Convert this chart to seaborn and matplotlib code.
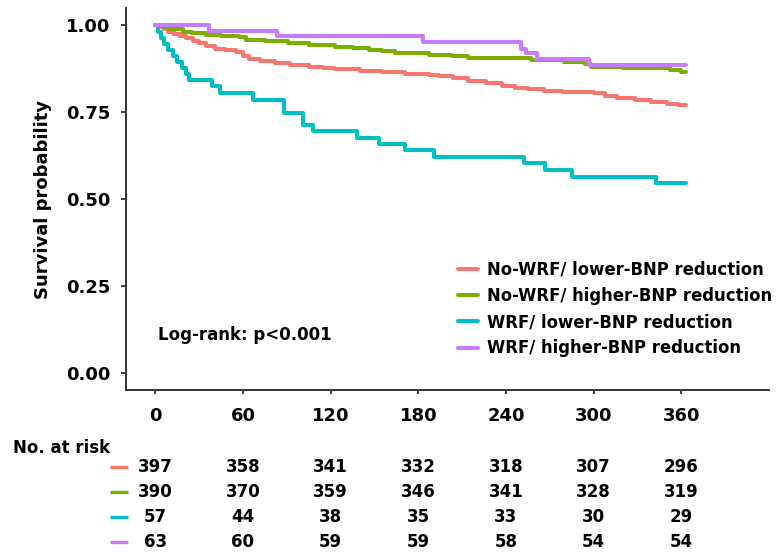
"""
Kaplan-Meier curves by WRF / BNP-reduction group with number-at-risk table.
"""

import numpy as np
import pandas as pd
import matplotlib
matplotlib.use("Agg")
import matplotlib.pyplot as plt
import matplotlib.transforms as mtransforms
import seaborn as sns

GROUPS = [
    "No-WRF/ lower-BNP reduction",
    "No-WRF/ higher-BNP reduction",
    "WRF/ lower-BNP reduction",
    "WRF/ higher-BNP reduction",
]
COLORS = ["#F8766D", "#7CAE00", "#00BFC4", "#C77CFF"]

# step times (days) and survival after each step
RED_T = [0, 3, 6, 9, 13, 17, 21, 26, 30, 35, 41, 48, 55, 60, 64, 72, 82, 92, 105, 115,
         123, 140, 155, 171, 187, 194, 204, 214, 226, 237, 246, 255, 266, 278, 300,
         308, 316, 328, 339, 350, 358, 363]
RED_S = [1.0, 0.995, 0.99, 0.982, 0.976, 0.97, 0.963, 0.955, 0.948, 0.941, 0.933, 0.928,
         0.923, 0.913, 0.904, 0.898, 0.892, 0.887, 0.880, 0.876, 0.873, 0.870, 0.866,
         0.861, 0.858, 0.855, 0.847, 0.839, 0.833, 0.826, 0.821, 0.816, 0.812, 0.807,
         0.804, 0.797, 0.791, 0.785, 0.778, 0.774, 0.770, 0.770]

GREEN_T = [0, 5, 10, 19, 25, 35, 45, 57, 62, 75, 91, 105, 123, 135, 146, 155, 164, 187,
           203, 214, 250, 257, 262, 280, 294, 298, 320, 339, 352, 360, 363]
GREEN_S = [1.0, 0.995, 0.99, 0.981, 0.978, 0.971, 0.968, 0.966, 0.959, 0.955, 0.949,
           0.944, 0.938, 0.934, 0.930, 0.925, 0.919, 0.916, 0.912, 0.907, 0.907, 0.901,
           0.899, 0.895, 0.890, 0.880, 0.878, 0.876, 0.872, 0.866, 0.866]

CYAN_T = [0, 2, 4, 6, 9, 12, 15, 18, 21, 23, 39, 44, 67, 88, 101, 108, 138, 153, 171,
          191, 252, 267, 285, 343, 363]
CYAN_S = [1.0, 0.982, 0.965, 0.947, 0.930, 0.912, 0.895, 0.877, 0.860, 0.842, 0.824,
          0.805, 0.786, 0.749, 0.713, 0.695, 0.676, 0.658, 0.641, 0.620, 0.603, 0.583,
          0.564, 0.547, 0.547]

PURPLE_T = [0, 37, 83, 183, 250, 254, 261, 297, 363]
PURPLE_S = [1.0, 0.984, 0.968, 0.952, 0.933, 0.919, 0.904, 0.885, 0.885]

RISK_TIMES = [0, 60, 120, 180, 240, 300, 360]
RISK_RED = [397, 358, 341, 332, 318, 307, 296]
RISK_GREEN = [390, 370, 359, 346, 341, 328, 319]
RISK_CYAN = [57, 44, 38, 35, 33, 30, 29]
RISK_PURPLE = [63, 60, 59, 59, 58, 54, 54]

Y_TICKS = [0.0, 0.25, 0.5, 0.75, 1.0]


def build_frame():
    parts = []
    for g, t, s in zip(GROUPS, [RED_T, GREEN_T, CYAN_T, PURPLE_T],
                       [RED_S, GREEN_S, CYAN_S, PURPLE_S]):
        parts.append(pd.DataFrame({"time": t, "surv": s, "group": g}))
    return pd.concat(parts, ignore_index=True)


def plot_km(df):
    sns.set_style("white")
    plt.rcParams["font.family"] = ["DejaVu Sans"]
    plt.rcParams["font.weight"] = "bold"
    plt.rcParams["text.color"] = "black"
    plt.rcParams["axes.labelcolor"] = "black"
    plt.rcParams["xtick.color"] = "black"
    plt.rcParams["ytick.color"] = "black"

    fig = plt.figure(figsize=(7.84, 5.52), dpi=100)
    ax = fig.add_axes([0.1607, 0.2935, 0.8202, 0.6920])

    sns.lineplot(
        data=df, x="time", y="surv", hue="group", hue_order=GROUPS,
        palette=COLORS, drawstyle="steps-post", estimator=None, sort=False,
        linewidth=2.9, legend=False, ax=ax,
    )

    ax.set_xlim(-20, 420)
    ax.set_ylim(-0.05, 1.05)
    ax.set_xticks(RISK_TIMES)
    ax.set_yticks(Y_TICKS)
    ax.set_yticklabels([f"{v:.2f}" for v in Y_TICKS])
    ax.set_xlabel("")
    ax.set_ylabel("Survival probability", fontsize=13, fontweight="bold", labelpad=10,
                  color="black")
    ax.tick_params(axis="y", labelsize=13, length=3.5, width=1.3, color="#333333", pad=8,
                   left=True, labelcolor="black")
    ax.tick_params(axis="x", labelsize=13, length=3, width=1.3, color="#333333", pad=9,
                   bottom=True, labelcolor="black")
    for lab in ax.get_xticklabels() + ax.get_yticklabels():
        lab.set_fontweight("bold")
    for side in ["top", "right"]:
        ax.spines[side].set_visible(False)
    for side in ["left", "bottom"]:
        ax.spines[side].set_color("#333333")
        ax.spines[side].set_linewidth(1.4)

    leg = ax.legend(
        handles=ax.lines[:4], labels=GROUPS, loc="center left",
        bbox_to_anchor=(0.516, 0.212), frameon=False,
        handlelength=1.2, handletextpad=0.55, labelspacing=0.5,
        borderpad=0, borderaxespad=0,
        prop={"weight": "bold", "size": 11.9},
    )
    for txt in leg.get_texts():
        txt.set_color("black")
    ax.text(2, 0.107, "Log-rank: p<0.001", fontsize=12, fontweight="bold",
            ha="left", va="center", color="black")

    # number at risk table
    tax = fig.add_axes([0.1607, 0.0, 0.8202, 0.1766])
    tax.set_xlim(-20, 420)
    tax.set_ylim(3.4, -0.5)
    tax.axis("off")
    trans = mtransforms.blended_transform_factory(tax.transAxes, tax.transData)
    for i, (vals, c) in enumerate(zip([RISK_RED, RISK_GREEN, RISK_CYAN, RISK_PURPLE], COLORS)):
        tax.plot([-0.025, 0.003], [i, i], color=c, lw=2.4, transform=trans,
                 clip_on=False, solid_capstyle="butt")
        for t, v in zip(RISK_TIMES, vals):
            tax.text(t, i, str(v), ha="center", va="center", fontsize=12,
                     fontweight="bold", color="black")
    fig.text(13 / 784, 1 - 448 / 552, "No. at risk", ha="left", va="center",
             fontsize=12, fontweight="bold", color="black")

    fig.savefig("out.png", dpi=100)
    plt.close(fig)


if __name__ == "__main__":
    df = build_frame()
    plot_km(df)
